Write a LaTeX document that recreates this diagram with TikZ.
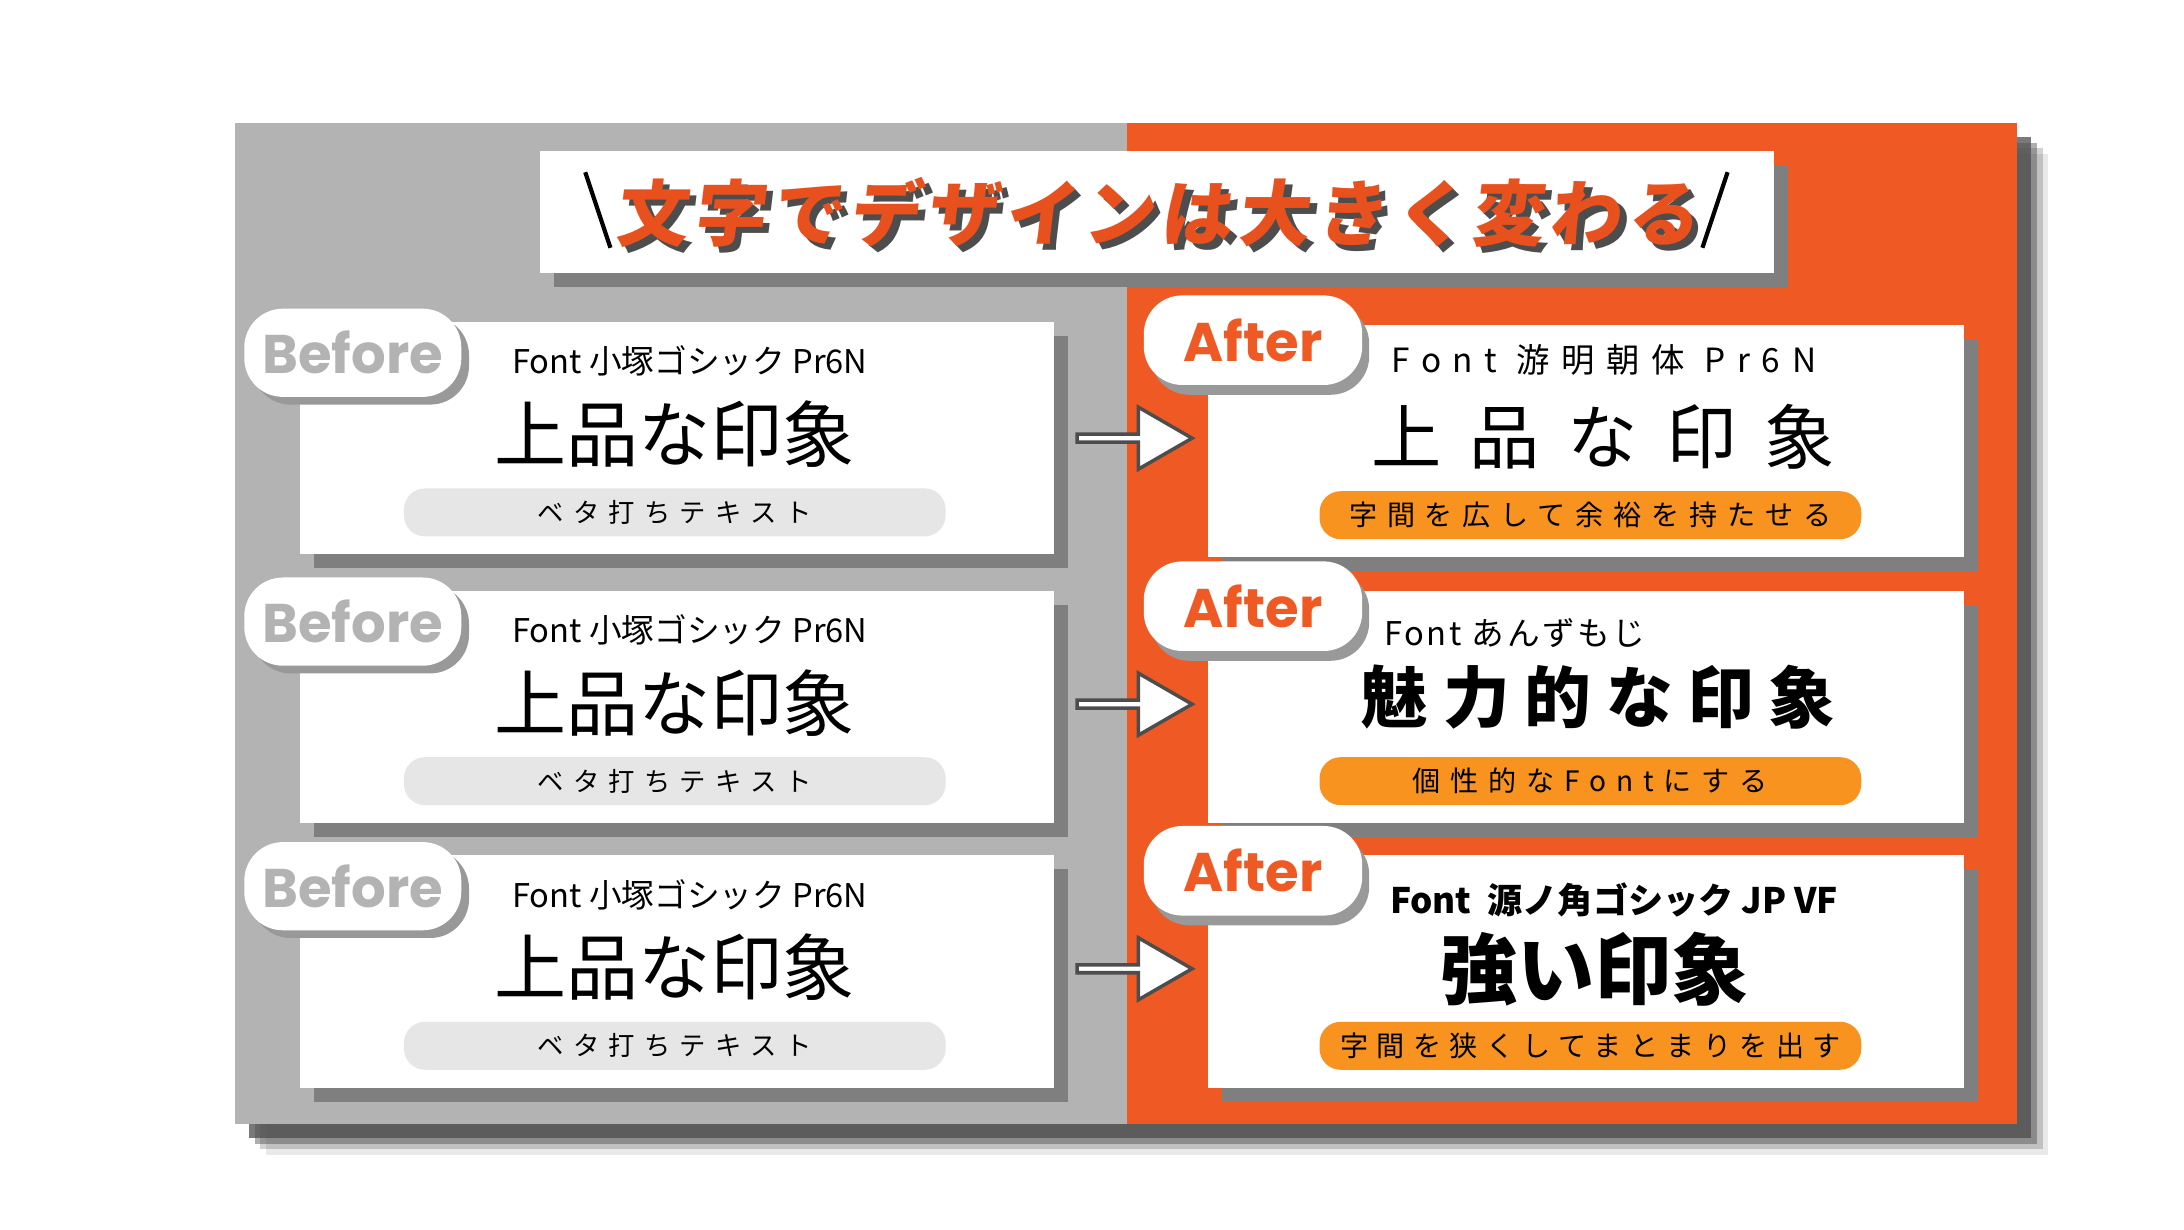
\documentclass[tikz,border=0pt]{standalone}
\usepackage{fontspec}
\setmainfont{Noto Sans CJK JP}
\newfontfamily\jp{Noto Sans CJK JP}
\newfontfamily\jpslant[FakeSlant=0.12]{Noto Sans CJK JP}
\newfontfamily\pop{Poppins}
\usetikzlibrary{shapes.arrows}
\definecolor{panelgray}{HTML}{B3B3B3}
\definecolor{panelorange}{HTML}{EF5A24}
\definecolor{pillorange}{HTML}{F7931E}
\definecolor{pillgray}{HTML}{E6E6E6}
\definecolor{shad}{HTML}{7F7F7F}
\definecolor{darkshad}{HTML}{4D4D4D}
\definecolor{titlered}{HTML}{E8501E}
\tikzset{
  card/.style={fill=white, draw=none},
  cardshadow/.style={fill=shad, draw=none},
  tab/.style={fill=white, rounded corners=11pt, draw=none},
  tabshadow/.style={fill=shad!80, rounded corners=11pt, draw=none},
  pill/.style={rounded corners=6, inner sep=0pt, minimum width=5.42cm, minimum height=0.48cm},
  barrow/.style={single arrow, draw=darkshad, fill=white, line width=1pt, minimum height=1.15cm, minimum width=0.62cm, single arrow head extend=0.12cm, inner sep=0pt, single arrow tip angle=60},
  tabfont/.style={font=\pop\bfseries\fontsize{15.5}{15.5}\selectfont},
}
\begin{document}
\begin{tikzpicture}[x=0.014cm,y=-0.014cm]
\useasboundingbox[fill=white] (0,0) rectangle (1560,878);
% main panel shadow
\foreach \o/\op in {22/0.12,18/0.25,14/0.45,10/0.75}{
  \fill[darkshad,opacity=\op] (168+\o,88+\o) rectangle (1441+\o,803+\o);}
\fill[panelgray] (168,88) rectangle (805,803);
\fill[panelorange] (805,88) rectangle (1441,803);
% title
\fill[shad] (396,118) rectangle (1277,205);
\node[card, minimum width=881*0.014cm, minimum height=87*0.014cm, inner sep=0pt] (title) at (826.5,151.5) {};
\node[text=darkshad, font=\jpslant\bfseries\fontsize{20.5}{20.5}\selectfont] at ([xshift=1.8pt,yshift=-1.8pt]title.center) {\addfontfeature{LetterSpace=8}文字でデザインは大きく変わる};
\node[text=titlered, font=\jpslant\bfseries\fontsize{20.5}{20.5}\selectfont] (titletext) at (title.center) {\addfontfeature{LetterSpace=8}文字でデザインは大きく変わる};
\coordinate (s1a) at (418,123); \coordinate (s1b) at (436,177);
\coordinate (s2a) at (1234,123); \coordinate (s2b) at (1216,177);
\draw[line width=1.2pt] (s1a) -- (s1b);
\draw[line width=1.2pt] (s2a) -- (s2b);
% Before cards
\foreach \i/\y in {1/230,2/422,3/611}{
  \fill[cardshadow] (224,\y+10) rectangle (763,\y+176);
  \node[card, minimum width=539*0.014cm, minimum height=166*0.014cm, inner sep=0pt] (b\i) at (483.5,\y+83) {};
  \fill[tabshadow] (180,\y-4) rectangle (335,\y+59);
  \node[tab, tabfont, minimum width=155*0.014cm, minimum height=63*0.014cm, inner sep=0pt, text=panelgray] (bt\i) at (252,\y+22) {Before};
  \node[anchor=west, font=\jp\fontsize{9.3}{9.3}\selectfont] (bf\i) at (357,\y+28) {Font 小塚ゴシック Pr6N};
  \node[font=\jp\fontsize{20.5}{20.5}\selectfont] (bm\i) at (482,\y+80) {上品な印象};
  \node[pill, fill=pillgray, font=\jp\fontsize{7.5}{7.5}\selectfont] (bp\i) at (482,\y+136) {\addfontfeature{LetterSpace=35}ベタ打ちテキスト};
}
% After cards
\foreach \i/\y in {1/232,2/422,3/611}{
  \fill[cardshadow] (873,\y+10) rectangle (1413,\y+176);
  \node[card, minimum width=540*0.014cm, minimum height=166*0.014cm, inner sep=0pt] (a\i) at (1133,\y+83) {};
  \fill[tabshadow] (822,\y-14) rectangle (978,\y+50);
  \node[tab, tabfont, minimum width=156*0.014cm, minimum height=64*0.014cm, inner sep=0pt, text=panelorange] (at\i) at (895,\y+11) {After};
  \node[pill, fill=pillorange] (ap\i) at (1136,\y+136) {};
  \node[barrow] (arr\i) at (808,\y+81) {};
}
% After texts
\node[anchor=west, font=\jp\fontsize{9.5}{9.5}\selectfont] (af1) at (985,257) {\addfontfeature{LetterSpace=35}Font 游明朝体 Pr6N};
\node[font=\jp\fontsize{20}{20}\selectfont] (am1) at (1145,312) {\addfontfeature{LetterSpace=40}上品な印象};
\node[font=\jp\fontsize{8}{8}\selectfont] at (ap1) {\addfontfeature{LetterSpace=35}字間を広して余裕を持たせる};
\node[anchor=west, font=\jp\fontsize{9.3}{9.3}\selectfont] (af2) at (980,452) {\addfontfeature{LetterSpace=8}Font あんずもじ};
\node[font=\jp\bfseries\fontsize{19}{19}\selectfont] (am2) at (1142,498) {\addfontfeature{LetterSpace=22}魅力的な印象};
\node[font=\jp\fontsize{8}{8}\selectfont] at (ap2) {\addfontfeature{LetterSpace=35}個性的なFontにする};
\node[anchor=west, font=\jp\bfseries\fontsize{10}{10}\selectfont] (af3) at (984,643) {Font\ \ 源ノ角ゴシック JP VF};
\node[font=\jp\bfseries\fontsize{22}{22}\selectfont] (am3) at (1139,692) {強い印象};
\node[font=\jp\fontsize{8}{8}\selectfont] at (ap3) {\addfontfeature{LetterSpace=30}字間を狭くしてまとまりを出す};
\end{tikzpicture}
\end{document}
